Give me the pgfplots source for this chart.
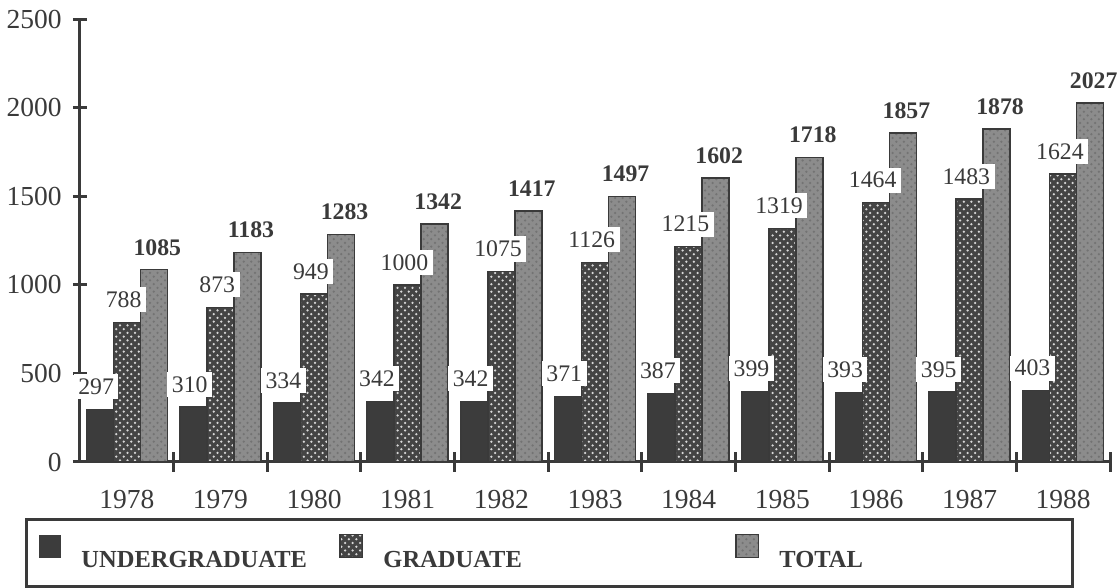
\documentclass[border=0pt]{standalone}
\usepackage{pgfplots}
\pgfplotsset{compat=1.18}
\usepackage{fontspec}
\setmainfont{Liberation Serif}
\usetikzlibrary{patterns}

\definecolor{ink}{HTML}{3A3A3A}
\definecolor{ugfill}{HTML}{3C3C3C}
\definecolor{grfill}{HTML}{444444}
\definecolor{totfill}{HTML}{8C8C8C}

% values as printed on the chart
\pgfplotstableread{
x ug grad total
0 297 788 1085
1 310 873 1183
2 334 949 1283
3 342 1000 1342
4 342 1075 1417
5 371 1126 1497
6 387 1215 1602
7 399 1319 1718
8 393 1464 1857
9 395 1483 1878
10 403 1624 2027
}\enroll

\begin{document}
\begin{tikzpicture}
\path[use as bounding box] (-32pt,-50.4pt) rectangle (414.8pt,184.8pt);
\begin{axis}[
    scale only axis,
    width=412pt, height=177.2pt,
    xmin=-0.5, xmax=10.5,
    ymin=0, ymax=2500,
    ybar, bar width=10.8pt,
    axis lines*=left,
    axis line style={ink, line width=1.2pt, -},
    xtick={0,...,10},
    xticklabels={1978,1979,1980,1981,1982,1983,1984,1985,1986,1987,1988},
    major x tick style={draw=none},
    minor xtick={0.5,1.5,...,10.5},
    minor x tick style={ink, line width=1.2pt},
    minor tick length=8pt,
    ytick={0,500,...,2500},
    y tick style={ink, line width=1.2pt},
    major tick length=5.6pt,
    tick align=center,
    /pgf/number format/assume math mode=true,
    /pgf/number format/1000 sep={},
    ticklabel style={font=\fontsize{11}{13}\selectfont, text=ink},
    xticklabel style={anchor=base, yshift=-16pt},
    yticklabel style={anchor=east, xshift=-1pt},
    every node near coord/.append style={font=\fontsize{9.5}{11}\selectfont,
        text=ink, fill=white, inner sep=1.8pt, anchor=center, yshift=9pt},
    legend columns=3,
    legend style={at={(-0.0534,-0.1264)}, anchor=north west,
        draw=ink, line width=1.2pt, inner xsep=5pt, inner ysep=5.8pt,
        font=\fontsize{9.8}{12}\selectfont\bfseries, text=ink,
        column sep=0pt, nodes={inner sep=0pt}},
    legend image code/.code={
        \fill[#1, draw=none] (0pt,1.6pt) rectangle (9pt,10.8pt);},
]
\addplot[fill=ugfill, draw=ink, line width=0.6pt, bar shift=-10.8pt]
    table[x=x, y=ug] {\enroll};
\addlegendentry{\hspace*{8pt}\makebox[103.2pt][l]{UNDERGRADUATE}}
\addplot[fill=grfill, draw=ink, line width=0.6pt, bar shift=0pt,
    postaction={pattern=crosshatch dots, pattern color=white!85!black}]
    table[x=x, y=grad] {\enroll};
\addlegendentry{\hspace*{8pt}\makebox[140.8pt][l]{GRADUATE}}
\addplot[fill=totfill, draw=ink, line width=0.6pt, bar shift=10.8pt,
    postaction={pattern=crosshatch dots, pattern color=black!55}]
    table[x=x, y=total] {\enroll};
\addlegendentry{\hspace*{8pt}\makebox[112pt][l]{TOTAL}}
% labels drawn last so their white boxes sit on top of the bars
\addplot[draw=none, fill=none, bar shift=-12.3pt, forget plot,
    nodes near coords] table[x=x, y=ug] {\enroll};
\addplot[draw=none, fill=none, bar shift=-1.3pt, forget plot,
    nodes near coords] table[x=x, y=grad] {\enroll};
\addplot[draw=none, fill=none, bar shift=12.2pt, forget plot,
    nodes near coords,
    every node near coord/.append style={font=\fontsize{9.5}{11}\selectfont\bfseries}]
    table[x=x, y=total] {\enroll};
\end{axis}
\end{tikzpicture}
\end{document}
